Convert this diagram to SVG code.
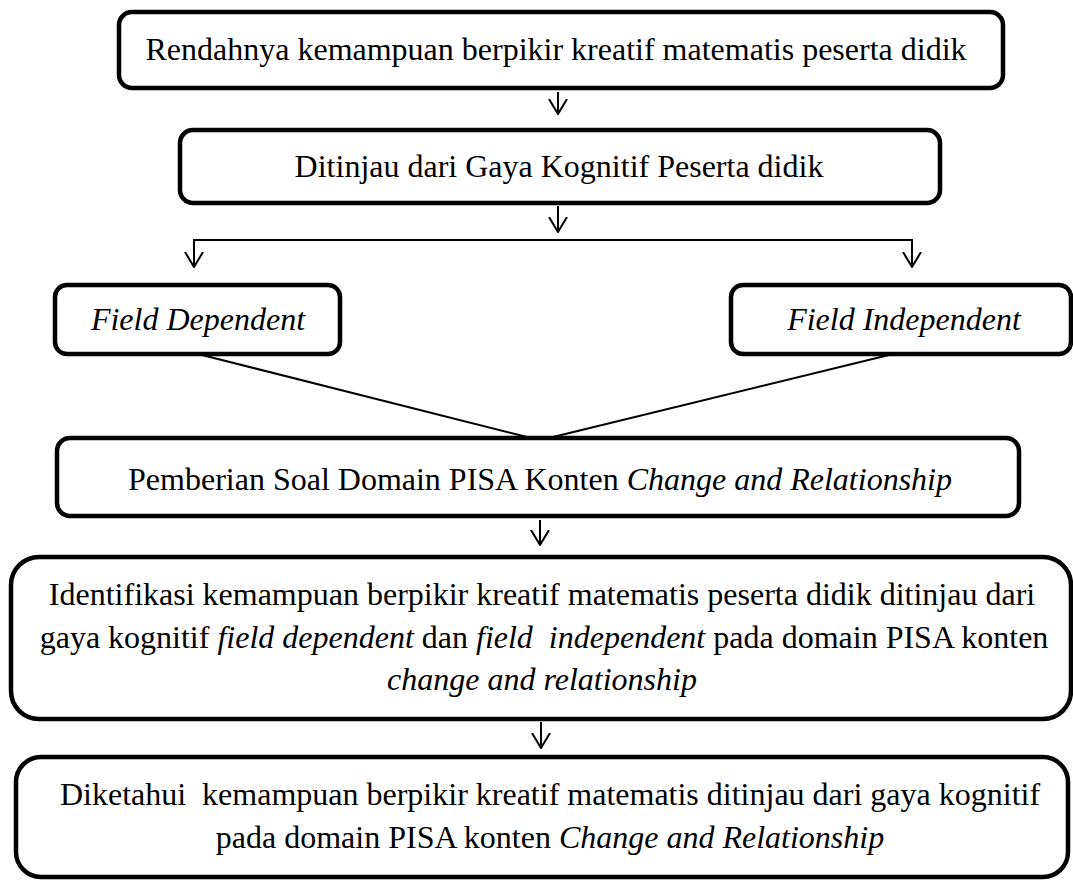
<svg xmlns="http://www.w3.org/2000/svg" width="1073" height="882" viewBox="0 0 1073 882">
  <style>
    .box { fill: #ffffff; stroke: #000000; stroke-width: 4.5; }
    .txt { font-family: "Liberation Serif", serif; font-size: 32px; fill: #000000; text-anchor: middle; }
    .it { font-style: italic; }
    .wire { fill: none; stroke: #000000; stroke-width: 2; }
    .arrow { fill: none; stroke: #000000; stroke-width: 2; marker-end: url(#vhead); }
  </style>
  <defs>
    <!-- open V arrowhead -->
    <marker id="vhead" viewBox="0 0 16 20" refX="15" refY="10" markerWidth="16" markerHeight="20" markerUnits="userSpaceOnUse" orient="auto">
      <path d="M0,1 L15,10 L0,19" fill="none" stroke="#000000" stroke-width="2"/>
    </marker>
  </defs>
  <rect width="1073" height="882" fill="#ffffff"/>

  <g id="connectors">
    <line class="arrow" x1="558" y1="92" x2="558" y2="114"/>
    <line class="arrow" x1="558" y1="206" x2="558" y2="232"/>
    <line class="wire" x1="193" y1="240" x2="913" y2="240" stroke-width="1.5"/>
    <line class="arrow" x1="194" y1="240" x2="194" y2="267"/>
    <line class="arrow" x1="912" y1="240" x2="912" y2="267"/>
    <line class="wire" x1="202" y1="355" x2="527" y2="437"/>
    <line class="wire" x1="553" y1="437" x2="889" y2="355"/>
    <line class="arrow" x1="540" y1="520" x2="540" y2="545"/>
    <line class="arrow" x1="541" y1="722" x2="541" y2="748"/>
  </g>

  <g id="rendahnya">
    <rect class="box" x="119" y="12" width="884" height="76" rx="13"/>
    <text class="txt" x="556" y="60" font-size="32.6">Rendahnya kemampuan berpikir kreatif matematis peserta didik</text>
  </g>

  <g id="ditinjau">
    <rect class="box" x="180" y="130" width="760" height="73" rx="13"/>
    <text class="txt" x="559" y="177">Ditinjau dari Gaya Kognitif Peserta didik</text>
  </g>

  <g id="field-dependent">
    <rect class="box" x="55" y="285" width="285" height="69" rx="12"/>
    <text class="txt it" x="198" y="330">Field Dependent</text>
  </g>

  <g id="field-independent">
    <rect class="box" x="731" y="285" width="340" height="69" rx="12"/>
    <text class="txt it" x="904" y="330">Field Independent</text>
  </g>

  <g id="pemberian">
    <rect class="box" x="57" y="438" width="962" height="78" rx="13"/>
    <text class="txt" x="540" y="490">Pemberian Soal Domain PISA Konten <tspan class="it">Change and Relationship</tspan></text>
  </g>

  <g id="identifikasi">
    <rect class="box" x="11" y="557" width="1060" height="162" rx="28"/>
    <text class="txt" x="542" y="605">Identifikasi kemampuan berpikir kreatif matematis peserta didik ditinjau dari</text>
    <text class="txt" x="544" y="648" xml:space="preserve">gaya kognitif <tspan class="it">field dependent</tspan> dan <tspan class="it">field  independent</tspan> pada domain PISA konten</text>
    <text class="txt it" x="542" y="690">change and relationship</text>
  </g>

  <g id="diketahui">
    <rect class="box" x="16" y="757" width="1052" height="120" rx="25"/>
    <text class="txt" x="550" y="805" xml:space="preserve">Diketahui  kemampuan berpikir kreatif matematis ditinjau dari gaya kognitif</text>
    <text class="txt" x="550" y="848">pada domain PISA konten <tspan class="it">Change and Relationship</tspan></text>
  </g>
</svg>
